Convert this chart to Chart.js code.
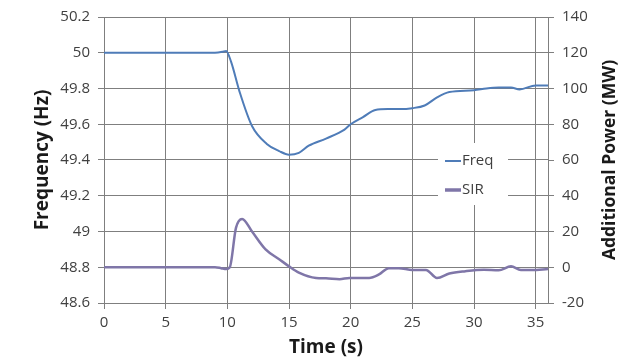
<!DOCTYPE html>
<html>
<head>
<meta charset="utf-8">
<script src="https://cdn.jsdelivr.net/npm/chart.js@4/dist/chart.umd.min.js"></script>
<style>
html,body{margin:0;padding:0;background:#fff;}
#wrap{width:622px;height:360px;position:relative;}
</style>
</head>
<body>
<div id="wrap"><canvas id="c" width="622" height="360"></canvas></div>
<script>
// ---- data ----
const freqTime = [0, 5, 9, 9.6, 9.9, 10.3, 11, 12, 13.2, 14.2, 15, 15.8, 16.6, 18, 19.5, 20, 21, 22, 23, 24, 25, 26, 27, 28, 30, 31, 32, 33, 33.7, 35, 36];
const freqHz   = [50, 50, 50, 50.005, 50.01, 49.95, 49.78, 49.59, 49.49, 49.45, 49.43, 49.44, 49.48, 49.52, 49.57, 49.6, 49.64, 49.68, 49.685, 49.685, 49.69, 49.705, 49.75, 49.78, 49.79, 49.8, 49.805, 49.805, 49.795, 49.817, 49.817];
const sirTime  = [0, 9, 9.5, 9.9, 10.2, 10.7, 11.2, 12, 13.1, 14.2, 15, 15.8, 17.2, 18, 19.1, 19.9, 21.5, 22.3, 23.1, 23.9, 25, 26.1, 27, 28, 29.3, 30.8, 32, 33, 33.8, 34.7, 36];
const sirMW    = [0, 0, -0.5, -1, 0, 22, 27, 20, 10, 4.5, 0.5, -3, -6, -6.2, -6.7, -6, -6, -4, -0.5, -0.5, -1.5, -1.5, -6, -3.5, -2.2, -1.4, -1.7, 0.5, -1.5, -1.5, -1];
const seriesLabels = ['Freq', 'SIR'];
const axisTitles = {x: 'Time (s)', y: 'Frequency (Hz)', y2: 'Additional Power (MW)'};

const gridColor = '#7f7f7f';
const tickColor = '#404040';
const tickFont = {family: 'Open Sans', size: 15};
const titleFont = {family: 'Open Sans', size: 19, weight: 'bold'};

const extrasPlugin = {
  id: 'extras',
  afterDraw(chart) {
    const ctx = chart.ctx, a = chart.chartArea;
    ctx.save();
    // legend box
    const x0 = a.left + 334, y0 = a.top + 126;
    ctx.fillStyle = '#fff';
    ctx.fillRect(x0, y0, 70, 62);
    ctx.font = '15px "Open Sans"';
    ctx.textBaseline = 'middle';
    chart.data.datasets.forEach((ds, i) => {
      const yy = y0 + 18 + i * 29;
      ctx.strokeStyle = ds.borderColor;
      ctx.lineWidth = ds.borderWidth + (i ? 1 : 0);
      ctx.beginPath();
      ctx.moveTo(x0 + 7, yy);
      ctx.lineTo(x0 + 23, yy);
      ctx.stroke();
      ctx.fillStyle = tickColor;
      ctx.fillText(ds.label, x0 + 24, yy);
    });
    // right axis title, reading bottom to top
    ctx.translate(chart.width - 12, (a.top + a.bottom) / 2);
    ctx.rotate(-Math.PI / 2);
    ctx.font = 'bold 17.5px "Open Sans"';
    ctx.textAlign = 'center';
    ctx.textBaseline = 'middle';
    ctx.fillStyle = '#1a1a1a';
    ctx.fillText(axisTitles.y2, 0, 0);
    ctx.restore();
  }
};

new Chart(document.getElementById('c'), {
  type: 'line',
  data: {
    datasets: [
      {label: seriesLabels[0], data: freqTime.map((t, i) => ({x: t, y: freqHz[i]})), yAxisID: 'y',
       borderColor: '#4f7cb8', borderWidth: 2, pointRadius: 0, cubicInterpolationMode: 'monotone', fill: false},
      {label: seriesLabels[1], data: sirTime.map((t, i) => ({x: t, y: sirMW[i]})), yAxisID: 'y2',
       borderColor: '#7f76a8', borderWidth: 2.5, pointRadius: 0, cubicInterpolationMode: 'monotone', fill: false}
    ]
  },
  options: {
    responsive: false,
    animation: false,
    layout: {padding: {top: 14, left: 0, right: 0, bottom: 0}},
    plugins: {legend: {display: false}, tooltip: {enabled: false}},
    scales: {
      x: {
        type: 'linear', min: 0, max: 36,
        ticks: {stepSize: 5, includeBounds: false, autoSkip: false, maxRotation: 0, color: tickColor, font: tickFont, padding: 5},
        grid: {color: gridColor, tickLength: 6, lineWidth: 1},
        border: {color: gridColor},
        title: {display: true, text: axisTitles.x, color: '#1a1a1a', font: titleFont, padding: {top: 0, bottom: 1}},
        afterFit: s => { s.height = 57; }
      },
      y: {
        type: 'linear', position: 'left', min: 48.6, max: 50.2,
        ticks: {stepSize: 0.2, color: tickColor, font: tickFont, padding: 8,
                callback: v => String(Number(v.toFixed(1)))},
        grid: {color: gridColor, tickLength: 6, lineWidth: 1},
        border: {color: gridColor},
        title: {display: true, text: axisTitles.y, color: '#1a1a1a', font: titleFont, padding: {top: 31, bottom: 0}},
        afterFit: s => { s.width = 104; }
      },
      y2: {
        type: 'linear', position: 'right', min: -20, max: 140,
        ticks: {stepSize: 20, color: tickColor, font: tickFont, padding: 8},
        grid: {drawOnChartArea: false, color: gridColor, tickLength: 6, lineWidth: 1},
        border: {color: gridColor},
        title: {display: false},
        afterFit: s => { s.width = 74; }
      }
    }
  },
  plugins: [extrasPlugin]
});
</script>
</body>
</html>
